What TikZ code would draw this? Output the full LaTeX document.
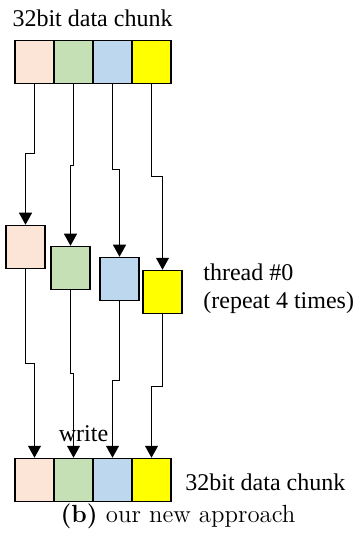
\documentclass[tikz,border=0pt]{standalone}
\usepackage{fontspec}
\newfontfamily\tnr{Liberation Serif}
\usetikzlibrary{arrows.meta}
\definecolor{cpeach}{HTML}{FCE4D6}
\definecolor{cgreen}{HTML}{C5E0B4}
\definecolor{cblue}{HTML}{BDD7EE}
\definecolor{cyellow}{HTML}{FFFF00}
\begin{document}
\begin{tikzpicture}[x=0.5pt,y=-0.5pt,
  cell/.style={draw=black,line width=0.75pt,inner sep=0pt,minimum width=19.5pt,minimum height=21.5pt},
  lab/.style={font=\tnr\fontsize{12}{14}\selectfont,inner sep=0pt},
  wire/.style={line width=0.5pt,-{Triangle[length=6pt,width=6.5pt]}}]
\useasboundingbox (0,0) rectangle (353,539);

% source chunk
\node[lab,anchor=base] (toplab) at (92.5,27) {32bit data chunk};
\node[cell,fill=cpeach]  (t1) at (34.5,62) {};
\node[cell,fill=cgreen]  (t2) at (73.5,62) {};
\node[cell,fill=cblue]   (t3) at (112.5,62) {};
\node[cell,fill=cyellow] (t4) at (151.5,62) {};

% per-thread bytes
\node[cell,fill=cpeach]  (m1) at (25.5,247) {};
\node[cell,fill=cgreen]  (m2) at (70.5,268) {};
\node[cell,fill=cblue]   (m3) at (119.5,279) {};
\node[cell,fill=cyellow] (m4) at (162.5,292) {};
\node[lab,anchor=base west] (thr) at (203,280) {thread \#0};
\node[lab,anchor=base west] (rep) at (203,308) {(repeat 4 times)};

% destination chunk
\node[cell,fill=cpeach]  (b1) at (34.5,480) {};
\node[cell,fill=cgreen]  (b2) at (73.5,480) {};
\node[cell,fill=cblue]   (b3) at (112.5,480) {};
\node[cell,fill=cyellow] (b4) at (151.5,480) {};
\node[lab,anchor=base west] (botlab) at (185,490) {32bit data chunk};
\node[lab,anchor=base] (wr) at (83.5,441) {write};
\node[font=\fontsize{12.4}{14}\selectfont,inner sep=0pt,anchor=base] (cap) at (178,522) {\textbf{(b)} our new approach};

% jog points
\coordinate (u1) at (25.5,154);
\coordinate (u2) at (70.5,166);
\coordinate (u3) at (119.5,170);
\coordinate (u4) at (162.5,177);
\coordinate (d1) at (34.5,363);
\coordinate (d2) at (73.5,373);
\coordinate (d3) at (112.5,380);
\coordinate (d4) at (151.5,386);

% read wires
\foreach \i in {1,2,3,4}{
  \draw[wire] (t\i.south) |- (u\i) -- (m\i.north);
  \draw[wire] (m\i.south) |- (d\i) -- (b\i.north);
}
\end{tikzpicture}
\end{document}
